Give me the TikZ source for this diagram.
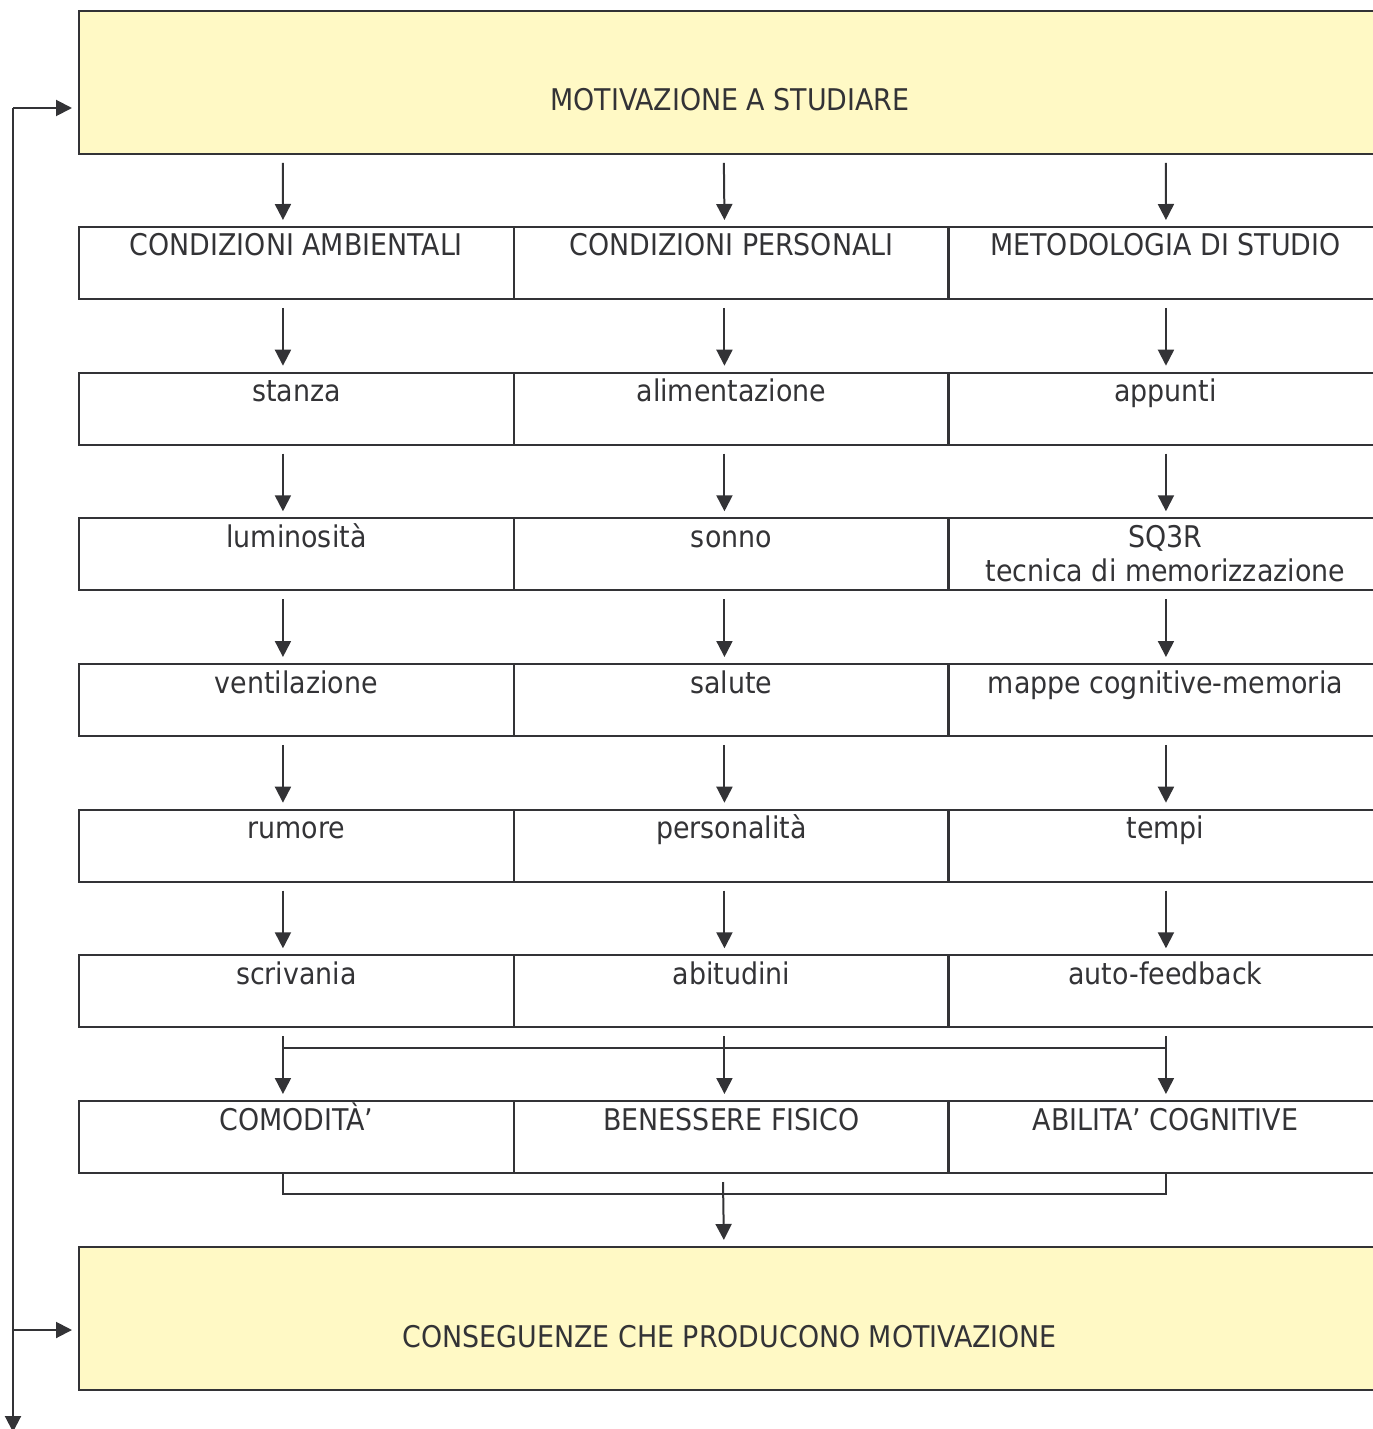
\documentclass[tikz,border=0pt]{standalone}
\usepackage{fontspec}
\setmainfont{DejaVu Sans Condensed}
\usetikzlibrary{arrows.meta,calc}
\definecolor{ln}{HTML}{333336}
\definecolor{yel}{HTML}{FFF9C5}
\begin{document}
\begin{tikzpicture}[x=0.02cm,y=-0.02cm,
  cell/.style={draw=ln,line width=0.04cm,minimum width=8.7cm,minimum height=1.44cm,inner sep=0,anchor=north west},
  big/.style={draw=ln,fill=yel,line width=0.04cm,minimum width=26.08cm,minimum height=2.86cm,inner sep=0,anchor=north west},
  txt/.style={text=ln,inner sep=0,anchor=base,align=center,font=\fontsize{17}{19.4}\selectfont},
  arr/.style={draw=ln,line width=0.04cm,-{Triangle[length=0.32cm,width=0.32cm]}},
  ln/.style={draw=ln,line width=0.04cm}]
\useasboundingbox (0,0) rectangle (1372,1429);
% big boxes
\node[big] (top) at (78,10) {};
\node[txt] at (730,111) {MOTIVAZIONE A STUDIARE};
\node[big] (bot) at (78,1246) {};
\node[txt] at (730,1347) {CONSEGUENZE CHE PRODUCONO MOTIVAZIONE};
% grid
\foreach \r/\y in {1/226,2/371.7,3/517.3,4/663,5/808.7,6/954.3,7/1100}{
  \node[cell] (a\r) at (78,\y) {};
  \node[cell] (b\r) at (513,\y) {};
  \node[cell] (c\r) at (947,\y) {};
}
% texts
\foreach \r/\ta/\tb/\tc/\off in {
  1/CONDIZIONI AMBIENTALI/CONDIZIONI PERSONALI/METODOLOGIA DI STUDIO/30,
  2/stanza/alimentazione/appunti/30,
  3/luminosità/sonno/{SQ3R\\tecnica di memorizzazione}/64,
  4/ventilazione/salute/mappe cognitive-memoria/30,
  5/rumore/personalità/tempi/30,
  6/scrivania/abitudini/auto-feedback/30,
  7/COMODITÀ’/BENESSERE FISICO/ABILITA’ COGNITIVE/30}{
  \node[txt] at ($(a\r.north)+(0,30)$) {\ta};
  \node[txt] at ($(b\r.north)+(0,30)$) {\tb};
  \node[txt] at ($(c\r.north)+(0,\off)$) {\tc};
}
% arrows from top box
\draw[arr] ($(top.south)+(-448,8)$) -- ($(a1.north)+(-13.5,-6)$);
\draw[arr] ($(top.south)+(-7,8)$) -- ($(b1.north)+(-7,-6)$);
\draw[arr] ($(top.south)+(435,8)$) -- ($(c1.north)+(0.5,-6)$);
% column arrows
\foreach \r [evaluate=\r as \n using int(\r+1)] in {1,...,5}{
  \draw[arr] ($(a\r.south)+(-13.5,8)$) -- ($(a\n.north)+(-13.5,-6)$);
  \draw[arr] ($(b\r.south)+(-7,8)$) -- ($(b\n.north)+(-7,-6)$);
  \draw[arr] ($(c\r.south)+(0.5,8)$) -- ($(c\n.north)+(0.5,-6)$);
}
% merge row
\draw[ln] (282,1048) -- (1165,1048);
\draw[arr] ($(a6.south)+(-13.5,8)$) -- ($(a7.north)+(-13.5,-6)$);
\draw[arr] ($(b6.south)+(-7,8)$) -- ($(b7.north)+(-7,-6)$);
\draw[arr] ($(c6.south)+(0.5,8)$) -- ($(c7.north)+(0.5,-6)$);
% bottom bracket
\draw[ln] ($(a7.south)+(-13.5,0)$) -- ++(0,20) -| ($(c7.south)+(0.5,0)$);
\coordinate (join) at (723,1182);
\draw[arr] (join) -- ($(bot.north)+(-7,-6)$);
% feedback loop
\coordinate (loopTop) at (13,108);
\coordinate (loopMid) at (13,1330);
\coordinate (loopEnd) at (13,1432);
\draw[arr] (loopTop) -- (loopEnd);
\draw[arr] (loopTop) -- ($(loopTop -| top.west)+(-6,0)$);
\draw[arr] (loopMid) -- ($(loopMid -| bot.west)+(-6,0)$);
\end{tikzpicture}
\end{document}
